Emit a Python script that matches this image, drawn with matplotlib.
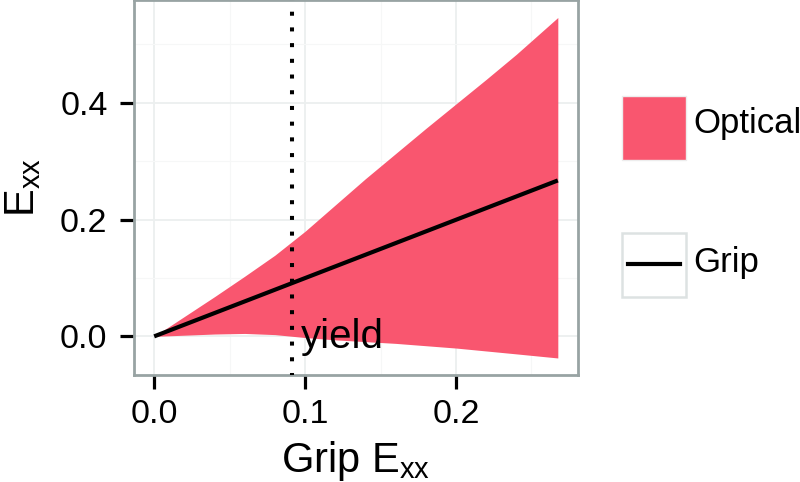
import matplotlib
matplotlib.use("Agg")
import matplotlib.pyplot as plt
from matplotlib.patches import Rectangle
from matplotlib.lines import Line2D

plt.rcParams['font.family'] = ['Liberation Sans', 'DejaVu Sans']
plt.rcParams['mathtext.fontset'] = 'custom'
plt.rcParams['mathtext.rm'] = 'Liberation Sans'
plt.rcParams['mathtext.it'] = 'Liberation Sans'

# ---- data ----
grip_strain = [0.0, 0.02, 0.04, 0.06, 0.08, 0.10, 0.12, 0.14, 0.16, 0.18, 0.20, 0.22, 0.24, 0.2675]
optical_upper = [0.0, 0.034, 0.068, 0.103, 0.139, 0.180, 0.225, 0.270, 0.313, 0.356, 0.398, 0.440, 0.483, 0.546]
optical_lower = [0.0, 0.002, 0.004, 0.005, 0.003, -0.002, -0.006, -0.009, -0.012, -0.016, -0.020, -0.025, -0.030, -0.037]
grip_x = [0.0, 0.2675]
grip_y = [0.0, 0.267]
yield_x = 0.0916
x_ticks = [0.0, 0.1, 0.2]
y_ticks = [0.0, 0.2, 0.4]

PINK = '#F9566F'
BORDER = '#98A3A3'
GRID = '#ECEFEF'

fig = plt.figure(figsize=(8.0, 4.82), dpi=100)
ax = fig.add_axes([134/800, 1 - 375/482, (578-134)/800, 375/482 - 0.001])

ax.fill_between(grip_strain, optical_lower, optical_upper, color=PINK, linewidth=0, zorder=2)
ax.plot(grip_x, grip_y, color='black', linewidth=3.0, zorder=3, solid_capstyle='butt')
ax.axvline(yield_x, color='black', linewidth=2.9, linestyle=(0.5, (1.0, 2.9)),
           dash_capstyle='butt', zorder=4)
ax.text(yield_x + 0.0055, -0.02, 'yield', fontsize=29, ha='left', va='baseline', zorder=5)

# ggplot-like 5% expansion
xr = max(grip_strain) - min(grip_strain)
ax.set_xlim(min(grip_strain) - 0.05 * xr, max(grip_strain) + 0.05 * xr)
ylo, yhi = min(optical_lower), max(optical_upper)
yr = yhi - ylo
ax.set_ylim(ylo - 0.05 * yr, yhi + 0.05 * yr)

ax.set_xticks(x_ticks)
ax.set_yticks(y_ticks)
ax.set_xticklabels([f'{v:.1f}' for v in x_ticks])
ax.set_yticklabels([f'{v:.1f}' for v in y_ticks])
ax.set_xticks([0.05, 0.15, 0.25], minor=True)
ax.set_yticks([0.1, 0.3, 0.5], minor=True)
ax.grid(True, which='major', color=GRID, linewidth=1.3, zorder=0)
ax.grid(True, which='minor', color='#F6F7F7', linewidth=0.8, zorder=0)
ax.set_axisbelow(True)
ax.tick_params(which='major', length=10, width=2.3, color='black', labelsize=24.5,
               labelcolor='black')
ax.tick_params(axis='y', which='major', pad=9)
ax.tick_params(axis='x', which='major', pad=7)
ax.tick_params(which='minor', length=0)
for s in ax.spines.values():
    s.set_color(BORDER)
    s.set_linewidth(2.0)

ax.set_xlabel(r'Grip E$_{\mathrm{xx}}$', fontsize=30)
ax.set_ylabel(r'E$_{\mathrm{xx}}$', fontsize=30)
ax.xaxis.set_label_coords(0.5, -0.172)
ax.yaxis.set_label_coords(-0.205, 0.5)

# ---- legend (drawn in figure pixel coordinates) ----
lg = fig.add_axes([0, 0, 1, 1], facecolor='none')
lg.set_xlim(0, 800)
lg.set_ylim(482, 0)
lg.axis('off')
lg.add_patch(Rectangle((622, 96), 64, 64, facecolor=PINK, edgecolor='#EDEDED', linewidth=1.0))
lg.add_patch(Rectangle((622, 233), 64, 64, facecolor='white', edgecolor='#DDE2E2', linewidth=1.8))
lg.add_line(Line2D([628, 680], [264, 264], color='black', linewidth=3.0))
lg.text(693, 133.5, 'Optical', fontsize=25, ha='left', va='baseline')
lg.text(693, 272, 'Grip', fontsize=25, ha='left', va='baseline')

fig.savefig('out.png', dpi=100)
